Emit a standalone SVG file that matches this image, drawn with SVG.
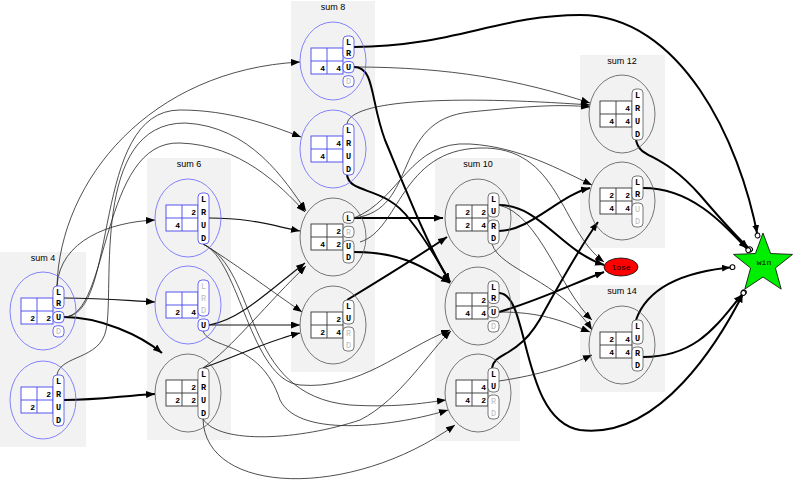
<svg xmlns="http://www.w3.org/2000/svg" width="794" height="492" viewBox="0 0 794 492">
<style>
.cl{fill:#f2f2f2}
.ct{font:9px "Liberation Sans",sans-serif;fill:#000;text-anchor:middle}
.e{fill:none;stroke:#555;stroke-width:0.8}
.eb{fill:none;stroke:#6666ff;stroke-width:0.8}
.g{fill:#fff;stroke:#333;stroke-width:0.9}
.gb{fill:#fff;stroke:#4444ee;stroke-width:0.9}
.p{fill:#fff;stroke:#555;stroke-width:0.8}
.pb{fill:#fff;stroke:#4444ee;stroke-width:0.8}
.t{font:bold 8.5px "Liberation Mono",monospace;fill:#000;text-anchor:middle}
.td{font:8.5px "Liberation Mono",monospace;fill:#bbb;text-anchor:middle}
.n{font:bold 8px "Liberation Mono",monospace;fill:#000;text-anchor:end}
.thin{fill:none;stroke:#222;stroke-width:0.8;marker-end:url(#a)}
.mid{fill:none;stroke:#111;stroke-width:1.2;marker-end:url(#a)}
.thick{fill:none;stroke:#000;stroke-width:2;marker-end:url(#a)}
.win{fill:none;stroke:#000;stroke-width:2;marker-end:url(#w)}
</style>
<defs>
<marker id="a" markerUnits="userSpaceOnUse" markerWidth="10" markerHeight="8" refX="9" refY="3.5" orient="auto"><path d="M0,0 L9,3.5 L0,7 z" fill="#000"/></marker>
<marker id="w" markerUnits="userSpaceOnUse" markerWidth="15" markerHeight="8" refX="13" refY="3.5" orient="auto"><path d="M0,0 L8,3.5 L0,7 z" fill="#000"/><circle cx="10.5" cy="3.5" r="2.4" fill="#fff" stroke="#000" stroke-width="1"/></marker>
</defs>
<rect width="794" height="492" fill="#fff"/>
<g id="clusters">
<rect class="cl" x="0" y="252" width="86" height="195"/><text class="ct" x="43" y="261">sum 4</text>
<rect class="cl" x="147" y="158" width="84" height="282"/><text class="ct" x="189" y="167">sum 6</text>
<rect class="cl" x="291" y="1" width="84" height="371"/><text class="ct" x="333" y="10">sum 8</text>
<rect class="cl" x="435" y="158" width="85" height="283"/><text class="ct" x="478" y="167">sum 10</text>
<rect class="cl" x="580" y="55" width="85" height="193"/><text class="ct" x="622" y="64">sum 12</text>
<rect class="cl" x="580" y="285" width="85" height="107"/><text class="ct" x="622" y="294">sum 14</text>
</g>
<g id="edges">
<path class="thin" d="M57,286 C60,180 150,70 300,62"/>
<path class="thin" d="M57,286 C60,240 110,222 155,220"/>
<path class="mid" d="M64,298 C100,298 120,300 155,302"/>
<path class="thick" d="M64,317 C100,317 140,335 162,353"/>
<path class="thin" d="M64,317 C120,317 90,110 180,110 C230,110 270,125 301,137"/>
<path class="thin" d="M64,317 C110,317 100,140 180,143 C240,145 280,185 305,212"/>
<path class="thin" d="M57,375 C60,355 100,360 106,330 C115,290 90,123 185,123 C250,126 285,180 306,211"/>
<path class="thick" d="M64,400 C100,400 120,396 155,394"/>
<path class="mid" d="M209,218 C250,218 270,225 300,231"/>
<path class="thin" d="M203,244 C230,260 270,290 302,312"/>
<path class="thin" d="M203,244 C240,260 250,380 300,385 C360,390 400,350 450,330"/>
<path class="thin" d="M203,244 C260,270 240,395 350,405 C400,408 430,402 446,400"/>
<path class="mid" d="M209,325 C240,320 270,290 305,263"/>
<path class="mid" d="M209,325 L300,325"/>
<path class="thin" d="M203,331 C210,350 260,340 280,400 C300,440 400,425 448,410"/>
<path class="thin" d="M203,368 C230,350 270,300 306,266"/>
<path class="mid" d="M203,368 C240,355 270,340 300,333"/>
<path class="thin" d="M203,419 C220,445 300,440 360,420 C400,400 430,350 451,331"/>
<path class="thin" d="M203,419 C205,495 350,500 455,425"/>
<path class="win" d="M354,47 C450,47 500,15 580,15 C680,15 740,140 758,238"/>
<path class="thin" d="M354,67 C450,67 520,80 590,103"/>
<path class="thick" d="M354,67 C375,67 370,100 385,140 C410,200 430,250 450,282"/>
<path class="thin" d="M347,124 C350,100 450,95 590,105"/>
<path class="thick" d="M347,175 C350,195 385,185 410,220 C430,245 440,265 450,282"/>
<path class="thick" d="M354,218 L443,218"/>
<path class="thin" d="M354,218 C420,210 390,120 470,112 C530,106 560,104 590,107"/>
<path class="thin" d="M354,218 C400,200 410,140 470,144 C520,147 560,170 592,185"/>
<path class="thin" d="M360,242 C400,230 400,150 480,148 C560,146 560,230 604,262"/>
<path class="thick" d="M354,252 C400,252 420,265 450,283"/>
<path class="thick" d="M347,300 C380,280 420,255 447,237"/>
<path class="thick" d="M499,205 C540,205 560,250 604,265"/>
<path class="thin" d="M499,205 C540,215 560,290 592,320"/>
<path class="thick" d="M499,231 C530,231 560,195 590,188"/>
<path class="thin" d="M492,244 C500,270 560,280 592,330"/>
<path class="win" d="M499,293 C530,293 520,420 580,430 C660,440 720,340 745,290"/>
<path class="thick" d="M499,312 C540,300 570,285 604,272"/>
<path class="thin" d="M499,312 C540,312 560,320 590,332"/>
<path class="thick" d="M492,368 C495,350 520,360 545,310 C570,265 585,240 598,222"/>
<path class="thin" d="M499,381 C540,375 570,365 592,355"/>
<path class="win" d="M636,140 C640,160 660,150 700,195 C730,230 745,245 752,251"/>
<path class="win" d="M643,188 C690,188 720,220 750,252"/>
<path class="win" d="M636,320 C650,280 700,270 735,267"/>
<path class="win" d="M643,357 C700,357 720,320 745,291"/>
</g>
<g id="A1" transform="translate(43,311)"><ellipse class="eb" rx="33" ry="39"/><rect class="gb" x="-22" y="-13" width="32" height="26"/><path class="gb" d="M-6,-13V13M-22,0H10"/><text class="n" x="-8" y="10">2</text><text class="n" x="8" y="10">2</text><rect class="pb" x="10" y="-25" width="11" height="22.5" rx="4"/><rect class="pb" x="10" y="0.5" width="11" height="11.25" rx="4"/><rect class="pb" x="10" y="14.75" width="11" height="11.25" rx="4"/><text class="t" x="15.5" y="-16.4">L</text><text class="t" x="15.5" y="-5.1">R</text><text class="t" x="15.5" y="9.1">U</text><text class="td" x="15.5" y="23.4">D</text></g>
<g id="A2" transform="translate(43,400)"><ellipse class="eb" rx="33" ry="39"/><rect class="gb" x="-22" y="-13" width="32" height="26"/><path class="gb" d="M-6,-13V13M-22,0H10"/><text class="n" x="8" y="-3">2</text><text class="n" x="-8" y="10">2</text><rect class="pb" x="10" y="-25" width="11" height="51" rx="4"/><text class="t" x="15.5" y="-15.6">L</text><text class="t" x="15.5" y="-2.9">R</text><text class="t" x="15.5" y="9.9">U</text><text class="t" x="15.5" y="22.6">D</text></g>
<g id="B1" transform="translate(188,218)"><ellipse class="eb" rx="33" ry="39"/><rect class="gb" x="-22" y="-13" width="32" height="26"/><path class="gb" d="M-6,-13V13M-22,0H10"/><text class="n" x="8" y="-3">2</text><text class="n" x="-8" y="10">4</text><rect class="pb" x="10" y="-25" width="11" height="51" rx="4"/><text class="t" x="15.5" y="-15.6">L</text><text class="t" x="15.5" y="-2.9">R</text><text class="t" x="15.5" y="9.9">U</text><text class="t" x="15.5" y="22.6">D</text></g>
<g id="B2" transform="translate(188,305)"><ellipse class="eb" rx="33" ry="39"/><rect class="gb" x="-22" y="-13" width="32" height="26"/><path class="gb" d="M-6,-13V13M-22,0H10"/><text class="n" x="-8" y="10">2</text><text class="n" x="8" y="10">4</text><rect class="pb" x="10" y="-25" width="11" height="36" rx="4"/><rect class="pb" x="10" y="14" width="11" height="12" rx="4"/><text class="td" x="15.5" y="-16">L</text><text class="td" x="15.5" y="-4">R</text><text class="td" x="15.5" y="8">D</text><text class="t" x="15.5" y="23">U</text></g>
<g id="B3" transform="translate(188,393)"><ellipse class="e" rx="33" ry="39"/><rect class="g" x="-22" y="-13" width="32" height="26"/><path class="g" d="M-6,-13V13M-22,0H10"/><text class="n" x="8" y="-3">2</text><text class="n" x="-8" y="10">2</text><text class="n" x="8" y="10">2</text><rect class="p" x="10" y="-25" width="11" height="51" rx="4"/><text class="t" x="15.5" y="-15.6">L</text><text class="t" x="15.5" y="-2.9">R</text><text class="t" x="15.5" y="9.9">U</text><text class="t" x="15.5" y="22.6">D</text></g>
<g id="C1" transform="translate(333,61)"><ellipse class="eb" rx="33" ry="39"/><rect class="gb" x="-22" y="-13" width="32" height="26"/><path class="gb" d="M-6,-13V13M-22,0H10"/><text class="n" x="-8" y="10">4</text><text class="n" x="8" y="10">4</text><rect class="pb" x="10" y="-25" width="11" height="22.5" rx="4"/><rect class="pb" x="10" y="0.5" width="11" height="11.25" rx="4"/><rect class="pb" x="10" y="14.75" width="11" height="11.25" rx="4"/><text class="t" x="15.5" y="-16.4">L</text><text class="t" x="15.5" y="-5.1">R</text><text class="t" x="15.5" y="9.1">U</text><text class="td" x="15.5" y="23.4">D</text></g>
<g id="C2" transform="translate(333,149)"><ellipse class="eb" rx="33" ry="39"/><rect class="gb" x="-22" y="-13" width="32" height="26"/><path class="gb" d="M-6,-13V13M-22,0H10"/><text class="n" x="8" y="-3">4</text><text class="n" x="-8" y="10">4</text><rect class="pb" x="10" y="-25" width="11" height="51" rx="4"/><text class="t" x="15.5" y="-15.6">L</text><text class="t" x="15.5" y="-2.9">R</text><text class="t" x="15.5" y="9.9">U</text><text class="t" x="15.5" y="22.6">D</text></g>
<g id="C3" transform="translate(333,237)"><ellipse class="e" rx="33" ry="39"/><rect class="g" x="-22" y="-13" width="32" height="26"/><path class="g" d="M-6,-13V13M-22,0H10"/><text class="n" x="8" y="-3">2</text><text class="n" x="-8" y="10">4</text><text class="n" x="8" y="10">2</text><rect class="p" x="10" y="-25" width="11" height="11.25" rx="4"/><rect class="p" x="10" y="-10.75" width="11" height="11.25" rx="4"/><rect class="p" x="10" y="3.5" width="11" height="22.5" rx="4"/><text class="t" x="15.5" y="-16.4">L</text><text class="td" x="15.5" y="-2.1">R</text><text class="t" x="15.5" y="12.1">U</text><text class="t" x="15.5" y="23.4">D</text></g>
<g id="C4" transform="translate(333,325)"><ellipse class="e" rx="33" ry="39"/><rect class="g" x="-22" y="-13" width="32" height="26"/><path class="g" d="M-6,-13V13M-22,0H10"/><text class="n" x="8" y="-3">2</text><text class="n" x="-8" y="10">2</text><text class="n" x="8" y="10">4</text><rect class="p" x="10" y="-25" width="11" height="24" rx="4"/><rect class="p" x="10" y="2" width="11" height="24" rx="4"/><text class="t" x="15.5" y="-16">L</text><text class="t" x="15.5" y="-4">U</text><text class="td" x="15.5" y="11">R</text><text class="td" x="15.5" y="23">D</text></g>
<g id="D1" transform="translate(478,218)"><ellipse class="e" rx="33" ry="39"/><rect class="g" x="-22" y="-13" width="32" height="26"/><path class="g" d="M-6,-13V13M-22,0H10"/><text class="n" x="-8" y="-3">2</text><text class="n" x="8" y="-3">2</text><text class="n" x="-8" y="10">2</text><text class="n" x="8" y="10">4</text><rect class="p" x="10" y="-25" width="11" height="24" rx="4"/><rect class="p" x="10" y="2" width="11" height="24" rx="4"/><text class="t" x="15.5" y="-16">L</text><text class="t" x="15.5" y="-4">U</text><text class="t" x="15.5" y="11">R</text><text class="t" x="15.5" y="23">D</text></g>
<g id="D2" transform="translate(478,306)"><ellipse class="e" rx="33" ry="39"/><rect class="g" x="-22" y="-13" width="32" height="26"/><path class="g" d="M-6,-13V13M-22,0H10"/><text class="n" x="8" y="-3">2</text><text class="n" x="-8" y="10">4</text><text class="n" x="8" y="10">4</text><rect class="p" x="10" y="-25" width="11" height="22.5" rx="4"/><rect class="p" x="10" y="0.5" width="11" height="11.25" rx="4"/><rect class="p" x="10" y="14.75" width="11" height="11.25" rx="4"/><text class="t" x="15.5" y="-16.4">L</text><text class="t" x="15.5" y="-5.1">R</text><text class="t" x="15.5" y="9.1">U</text><text class="td" x="15.5" y="23.4">D</text></g>
<g id="D3" transform="translate(478,393)"><ellipse class="e" rx="33" ry="39"/><rect class="g" x="-22" y="-13" width="32" height="26"/><path class="g" d="M-6,-13V13M-22,0H10"/><text class="n" x="8" y="-3">4</text><text class="n" x="-8" y="10">4</text><text class="n" x="8" y="10">2</text><rect class="p" x="10" y="-25" width="11" height="24" rx="4"/><rect class="p" x="10" y="2" width="11" height="24" rx="4"/><text class="t" x="15.5" y="-16">L</text><text class="t" x="15.5" y="-4">U</text><text class="td" x="15.5" y="11">R</text><text class="td" x="15.5" y="23">D</text></g>
<g id="E1" transform="translate(622,114)"><ellipse class="e" rx="33" ry="39"/><rect class="g" x="-22" y="-13" width="32" height="26"/><path class="g" d="M-6,-13V13M-22,0H10"/><text class="n" x="8" y="-3">4</text><text class="n" x="-8" y="10">4</text><text class="n" x="8" y="10">4</text><rect class="p" x="10" y="-25" width="11" height="51" rx="4"/><text class="t" x="15.5" y="-15.6">L</text><text class="t" x="15.5" y="-2.9">R</text><text class="t" x="15.5" y="9.9">U</text><text class="t" x="15.5" y="22.6">D</text></g>
<g id="E2" transform="translate(622,201)"><ellipse class="e" rx="33" ry="39"/><rect class="g" x="-22" y="-13" width="32" height="26"/><path class="g" d="M-6,-13V13M-22,0H10"/><text class="n" x="-8" y="-3">2</text><text class="n" x="8" y="-3">2</text><text class="n" x="-8" y="10">4</text><text class="n" x="8" y="10">4</text><rect class="p" x="10" y="-25" width="11" height="24" rx="4"/><rect class="p" x="10" y="2" width="11" height="24" rx="4"/><text class="t" x="15.5" y="-16">L</text><text class="t" x="15.5" y="-4">R</text><text class="td" x="15.5" y="11">U</text><text class="td" x="15.5" y="23">D</text></g>
<g id="F1" transform="translate(622,345)"><ellipse class="e" rx="33" ry="39"/><rect class="g" x="-22" y="-13" width="32" height="26"/><path class="g" d="M-6,-13V13M-22,0H10"/><text class="n" x="-8" y="-3">2</text><text class="n" x="8" y="-3">4</text><text class="n" x="-8" y="10">4</text><text class="n" x="8" y="10">4</text><rect class="p" x="10" y="-25" width="11" height="24" rx="4"/><rect class="p" x="10" y="2" width="11" height="24" rx="4"/><text class="t" x="15.5" y="-16">L</text><text class="t" x="15.5" y="-4">U</text><text class="t" x="15.5" y="11">R</text><text class="t" x="15.5" y="23">D</text></g>
<g id="lose"><ellipse cx="621" cy="267" rx="17" ry="9" fill="#ff0000" stroke="#000" stroke-width="0.8"/><text x="621" y="270" style="font:8px 'Liberation Mono',monospace;text-anchor:middle">lose</text></g>
<g id="win"><polygon points="763,233 770.6,253.5 792.5,254.4 775.4,268 781.2,289.1 763,277 744.8,289.1 750.6,268 733.5,254.4 755.4,253.5" fill="#00ee00" stroke="#000" stroke-width="0.8"/><text x="764" y="265" style="font:8px 'Liberation Mono',monospace;text-anchor:middle">win</text></g>
</svg>
